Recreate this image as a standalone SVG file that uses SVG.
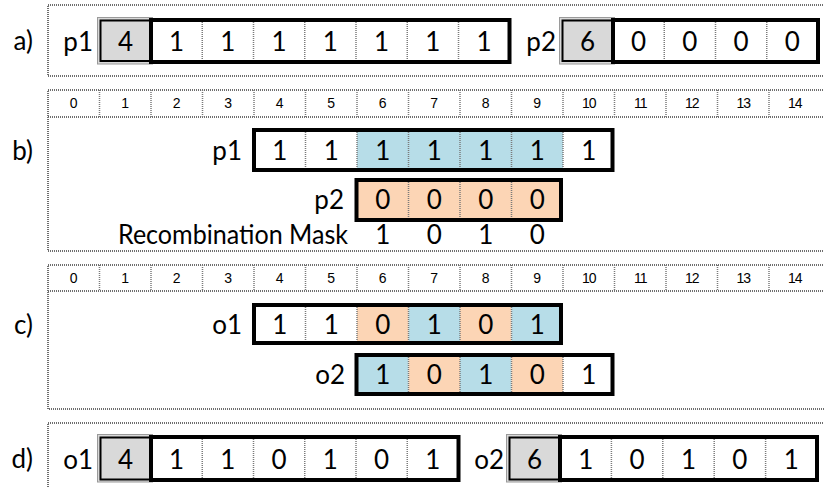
<svg xmlns="http://www.w3.org/2000/svg" width="824" height="488" viewBox="0 0 824 488">
<style>
.panel{fill:#fff;stroke:#6e6e6e;stroke-width:2;stroke-dasharray:1 1}
.rl{stroke:#6e6e6e;stroke-width:2;stroke-dasharray:1 1;fill:none}
.sep{stroke:#7a7a7a;stroke-width:1.5;stroke-dasharray:1 1;fill:none}
.box{fill:none;stroke:#000;stroke-width:4}
.gout{fill:#d9d9d9;stroke:#9a9a9a;stroke-width:1}
.gin{fill:none;stroke:#000;stroke-width:2}
.blue{fill:#b7dde8}
.orng{fill:#fcd5b5}
.t{font-family:Lato,"Liberation Sans",sans-serif;font-size:26px;fill:#000}
.v{text-anchor:middle}
.e{text-anchor:end}
.r{font-family:"Liberation Sans",Arial,sans-serif;font-size:14px;fill:#000;text-anchor:middle}
.r2{letter-spacing:-1px}
</style>
<g id="connectors"/>
<g id="labels">
<text class="t e" x="33" y="50">a)</text>
<text class="t e" x="33" y="160">b)</text>
<text class="t e" x="33" y="334">c)</text>
<text class="t e" x="33" y="468">d)</text>
</g>
<g id="panel-a">
<rect class="panel" x="48" y="5" width="790" height="71"/>
<g id="a-p1">
<text class="t e" x="93" y="51">p1</text>
<rect class="gout" x="97.5" y="17.5" width="55" height="46.5"/>
<rect class="gin" x="100.5" y="20.5" width="50" height="40.5"/>
<text class="t v" x="125.5" y="51">4</text>
<line class="sep" x1="202.25" y1="22" x2="202.25" y2="62"/>
<line class="sep" x1="253.5" y1="22" x2="253.5" y2="62"/>
<line class="sep" x1="304.75" y1="22" x2="304.75" y2="62"/>
<line class="sep" x1="356" y1="22" x2="356" y2="62"/>
<line class="sep" x1="407.25" y1="22" x2="407.25" y2="62"/>
<line class="sep" x1="458.5" y1="22" x2="458.5" y2="62"/>
<rect class="box" x="151" y="20" width="358.5" height="42"/>
<text class="t v" x="176.6" y="51">1</text>
<text class="t v" x="227.9" y="51">1</text>
<text class="t v" x="279.1" y="51">1</text>
<text class="t v" x="330.4" y="51">1</text>
<text class="t v" x="381.6" y="51">1</text>
<text class="t v" x="432.9" y="51">1</text>
<text class="t v" x="484.1" y="51">1</text>
</g>
<g id="a-p2">
<text class="t e" x="556" y="51">p2</text>
<rect class="gout" x="559.5" y="17.5" width="55" height="46.5"/>
<rect class="gin" x="562.5" y="20.5" width="50" height="40.5"/>
<text class="t v" x="587.5" y="51">6</text>
<line class="sep" x1="664.25" y1="22" x2="664.25" y2="62"/>
<line class="sep" x1="715.5" y1="22" x2="715.5" y2="62"/>
<line class="sep" x1="766.75" y1="22" x2="766.75" y2="62"/>
<rect class="box" x="613" y="20" width="205" height="42"/>
<text class="t v" x="638.6" y="51">0</text>
<text class="t v" x="689.9" y="51">0</text>
<text class="t v" x="741.1" y="51">0</text>
<text class="t v" x="792.4" y="51">0</text>
</g>
</g>
<g id="panel-b">
<rect class="panel" x="48" y="90" width="790" height="161"/>
<line class="rl" x1="48" y1="117" x2="838" y2="117"/>
<g id="b-ruler">
<line class="sep" x1="99.5" y1="90" x2="99.5" y2="117"/>
<line class="sep" x1="151" y1="90" x2="151" y2="117"/>
<line class="sep" x1="202.5" y1="90" x2="202.5" y2="117"/>
<line class="sep" x1="254" y1="90" x2="254" y2="117"/>
<line class="sep" x1="305.5" y1="90" x2="305.5" y2="117"/>
<line class="sep" x1="357" y1="90" x2="357" y2="117"/>
<line class="sep" x1="408.5" y1="90" x2="408.5" y2="117"/>
<line class="sep" x1="460" y1="90" x2="460" y2="117"/>
<line class="sep" x1="511.5" y1="90" x2="511.5" y2="117"/>
<line class="sep" x1="563" y1="90" x2="563" y2="117"/>
<line class="sep" x1="614.5" y1="90" x2="614.5" y2="117"/>
<line class="sep" x1="666" y1="90" x2="666" y2="117"/>
<line class="sep" x1="717.5" y1="90" x2="717.5" y2="117"/>
<line class="sep" x1="769" y1="90" x2="769" y2="117"/>
<text class="r" x="73.75" y="108">0</text>
<text class="r" x="125.25" y="108">1</text>
<text class="r" x="176.75" y="108">2</text>
<text class="r" x="228.25" y="108">3</text>
<text class="r" x="279.75" y="108">4</text>
<text class="r" x="331.25" y="108">5</text>
<text class="r" x="382.75" y="108">6</text>
<text class="r" x="434.25" y="108">7</text>
<text class="r" x="485.75" y="108">8</text>
<text class="r" x="537.25" y="108">9</text>
<text class="r r2" x="588.75" y="108">10</text>
<text class="r r2" x="640.25" y="108">11</text>
<text class="r r2" x="691.75" y="108">12</text>
<text class="r r2" x="743.25" y="108">13</text>
<text class="r r2" x="794.75" y="108">14</text>
</g>
<g id="b-p1">
<text class="t e" x="242" y="160">p1</text>
<rect class="blue" x="357" y="130" width="206" height="40"/>
<line class="sep" x1="305.5" y1="132" x2="305.5" y2="168"/>
<line class="sep" x1="357" y1="132" x2="357" y2="168"/>
<line class="sep" x1="408.5" y1="132" x2="408.5" y2="168"/>
<line class="sep" x1="460" y1="132" x2="460" y2="168"/>
<line class="sep" x1="511.5" y1="132" x2="511.5" y2="168"/>
<line class="sep" x1="563" y1="132" x2="563" y2="168"/>
<rect class="box" x="254" y="130" width="358.5" height="40"/>
<text class="t v" x="279.75" y="160">1</text>
<text class="t v" x="331.25" y="160">1</text>
<text class="t v" x="382.75" y="160">1</text>
<text class="t v" x="434.25" y="160">1</text>
<text class="t v" x="485.75" y="160">1</text>
<text class="t v" x="537.25" y="160">1</text>
<text class="t v" x="588.75" y="160">1</text>
</g>
<g id="b-p2">
<text class="t e" x="344" y="209">p2</text>
<rect class="orng" x="357" y="180" width="204" height="40"/>
<line class="sep" x1="408.5" y1="182" x2="408.5" y2="218"/>
<line class="sep" x1="460" y1="182" x2="460" y2="218"/>
<line class="sep" x1="511.5" y1="182" x2="511.5" y2="218"/>
<rect class="box" x="356.5" y="180" width="204.5" height="40"/>
<text class="t v" x="382.75" y="209">0</text>
<text class="t v" x="434.25" y="209">0</text>
<text class="t v" x="485.75" y="209">0</text>
<text class="t v" x="537.25" y="209">0</text>
</g>
<g id="b-mask">
<text class="t e" x="348" y="244" textLength="230" lengthAdjust="spacingAndGlyphs">Recombination Mask</text>
<text class="t v" x="382.75" y="244">1</text>
<text class="t v" x="434.25" y="244">0</text>
<text class="t v" x="485.75" y="244">1</text>
<text class="t v" x="537.25" y="244">0</text>
</g>
</g>
<g id="panel-c">
<rect class="panel" x="48" y="265" width="790" height="144"/>
<line class="rl" x1="48" y1="291" x2="838" y2="291"/>
<g id="c-ruler">
<line class="sep" x1="99.5" y1="265" x2="99.5" y2="291"/>
<line class="sep" x1="151" y1="265" x2="151" y2="291"/>
<line class="sep" x1="202.5" y1="265" x2="202.5" y2="291"/>
<line class="sep" x1="254" y1="265" x2="254" y2="291"/>
<line class="sep" x1="305.5" y1="265" x2="305.5" y2="291"/>
<line class="sep" x1="357" y1="265" x2="357" y2="291"/>
<line class="sep" x1="408.5" y1="265" x2="408.5" y2="291"/>
<line class="sep" x1="460" y1="265" x2="460" y2="291"/>
<line class="sep" x1="511.5" y1="265" x2="511.5" y2="291"/>
<line class="sep" x1="563" y1="265" x2="563" y2="291"/>
<line class="sep" x1="614.5" y1="265" x2="614.5" y2="291"/>
<line class="sep" x1="666" y1="265" x2="666" y2="291"/>
<line class="sep" x1="717.5" y1="265" x2="717.5" y2="291"/>
<line class="sep" x1="769" y1="265" x2="769" y2="291"/>
<text class="r" x="73.75" y="283">0</text>
<text class="r" x="125.25" y="283">1</text>
<text class="r" x="176.75" y="283">2</text>
<text class="r" x="228.25" y="283">3</text>
<text class="r" x="279.75" y="283">4</text>
<text class="r" x="331.25" y="283">5</text>
<text class="r" x="382.75" y="283">6</text>
<text class="r" x="434.25" y="283">7</text>
<text class="r" x="485.75" y="283">8</text>
<text class="r" x="537.25" y="283">9</text>
<text class="r r2" x="588.75" y="283">10</text>
<text class="r r2" x="640.25" y="283">11</text>
<text class="r r2" x="691.75" y="283">12</text>
<text class="r r2" x="743.25" y="283">13</text>
<text class="r r2" x="794.75" y="283">14</text>
</g>
<g id="c-o1">
<text class="t e" x="242" y="334">o1</text>
<rect class="orng" x="357" y="305" width="51.5" height="38"/>
<rect class="blue" x="408.5" y="305" width="51.5" height="38"/>
<rect class="orng" x="460" y="305" width="51.5" height="38"/>
<rect class="blue" x="511.5" y="305" width="49.5" height="38"/>
<line class="sep" x1="305.5" y1="307" x2="305.5" y2="341"/>
<line class="sep" x1="357" y1="307" x2="357" y2="341"/>
<line class="sep" x1="408.5" y1="307" x2="408.5" y2="341"/>
<line class="sep" x1="460" y1="307" x2="460" y2="341"/>
<line class="sep" x1="511.5" y1="307" x2="511.5" y2="341"/>
<rect class="box" x="254" y="305" width="307" height="38"/>
<text class="t v" x="279.75" y="334">1</text>
<text class="t v" x="331.25" y="334">1</text>
<text class="t v" x="382.75" y="334">0</text>
<text class="t v" x="434.25" y="334">1</text>
<text class="t v" x="485.75" y="334">0</text>
<text class="t v" x="537.25" y="334">1</text>
</g>
<g id="c-o2">
<text class="t e" x="345" y="384">o2</text>
<rect class="blue" x="357" y="355" width="51.5" height="39"/>
<rect class="orng" x="408.5" y="355" width="51.5" height="39"/>
<rect class="blue" x="460" y="355" width="51.5" height="39"/>
<rect class="orng" x="511.5" y="355" width="51.5" height="39"/>
<line class="sep" x1="408.5" y1="357" x2="408.5" y2="392"/>
<line class="sep" x1="460" y1="357" x2="460" y2="392"/>
<line class="sep" x1="511.5" y1="357" x2="511.5" y2="392"/>
<line class="sep" x1="563" y1="357" x2="563" y2="392"/>
<rect class="box" x="356.5" y="355" width="256" height="39"/>
<text class="t v" x="382.75" y="384">1</text>
<text class="t v" x="434.25" y="384">0</text>
<text class="t v" x="485.75" y="384">1</text>
<text class="t v" x="537.25" y="384">0</text>
<text class="t v" x="588.75" y="384">1</text>
</g>
</g>
<g id="panel-d">
<rect class="panel" x="48" y="423" width="790" height="80"/>
<g id="d-o1">
<text class="t e" x="93" y="469">o1</text>
<rect class="gout" x="97.5" y="434.5" width="55" height="47.5"/>
<rect class="gin" x="100.5" y="437.5" width="50" height="42"/>
<text class="t v" x="125.5" y="469">4</text>
<line class="sep" x1="202.25" y1="439" x2="202.25" y2="478"/>
<line class="sep" x1="253.5" y1="439" x2="253.5" y2="478"/>
<line class="sep" x1="304.75" y1="439" x2="304.75" y2="478"/>
<line class="sep" x1="356" y1="439" x2="356" y2="478"/>
<line class="sep" x1="407.25" y1="439" x2="407.25" y2="478"/>
<rect class="box" x="151" y="437" width="307.5" height="43"/>
<text class="t v" x="176.6" y="469">1</text>
<text class="t v" x="227.9" y="469">1</text>
<text class="t v" x="279.1" y="469">0</text>
<text class="t v" x="330.4" y="469">1</text>
<text class="t v" x="381.6" y="469">0</text>
<text class="t v" x="432.9" y="469">1</text>
</g>
<g id="d-o2">
<text class="t e" x="504" y="469">o2</text>
<rect class="gout" x="506.5" y="434.5" width="55" height="47.5"/>
<rect class="gin" x="509.5" y="437.5" width="50" height="42"/>
<text class="t v" x="534.5" y="469">6</text>
<line class="sep" x1="611.4" y1="439" x2="611.4" y2="478"/>
<line class="sep" x1="662.8" y1="439" x2="662.8" y2="478"/>
<line class="sep" x1="714.2" y1="439" x2="714.2" y2="478"/>
<line class="sep" x1="765.6" y1="439" x2="765.6" y2="478"/>
<rect class="box" x="560" y="437" width="257" height="43"/>
<text class="t v" x="585.7" y="469">1</text>
<text class="t v" x="637.1" y="469">0</text>
<text class="t v" x="688.5" y="469">1</text>
<text class="t v" x="739.9" y="469">0</text>
<text class="t v" x="791.3" y="469">1</text>
</g>
</g>
</svg>
